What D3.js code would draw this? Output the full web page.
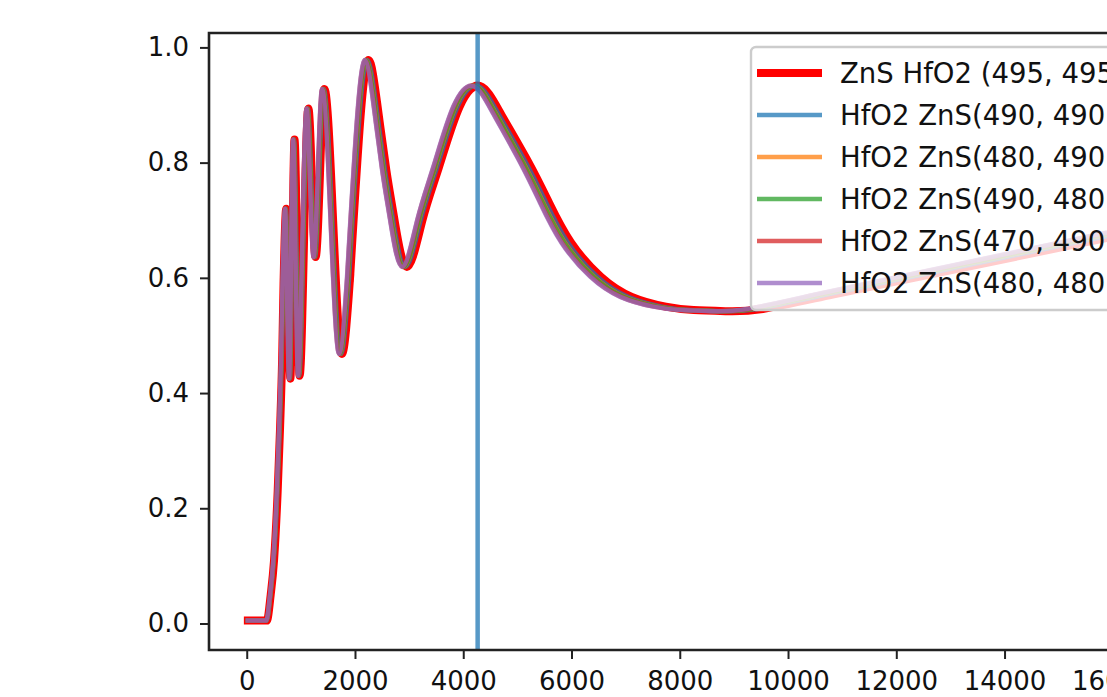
<!doctype html>
<html>
<head>
    <script src="https://d3js.org/d3.v7.min.js"></script>
</head>
<style>
    body { margin: 0; background: #fff; }
    svg text { font-family: "DejaVu Sans", sans-serif; fill: #111; }
</style>
<body>
    <div id="chart"></div>
    <script>
        // reflectance at the turning points of each curve (shared by every design)
        var reflect = [0.005, 0.005, 0.05, 0.11, 0.23, 0.34, 0.46, 0.59, 0.72, 0.425,
                       0.84, 0.43, 0.894, 0.636, 0.928, 0.468, 0.60, 0.88, 0.978, 0.905,
                       0.787, 0.70, 0.619, 0.70, 0.792, 0.897, 0.933, 0.885, 0.80, 0.73,
                       0.661, 0.602, 0.567, 0.55, 0.544, 0.542, 0.546, 0.571, 0.601, 0.631,
                       0.661, 0.69, 0.715];

        // x positions of those turning points, one list per design
        var xZnsHfo2_495_495 = [21, 371, 443, 505, 572, 616, 654, 680, 730, 806,
                                883, 977, 1139, 1273, 1435, 1759, 1909, 2103, 2255, 2407,
                                2579, 2731, 2960, 3246, 3551, 3932, 4313, 4694, 5209, 5588,
                                5994, 6542, 7114, 7743, 8257, 8867, 9534, 10826, 12372, 13919,
                                15465, 17012, 18558];
        var xHfo2Zns_490_490 = [20, 368, 439, 500, 567, 610, 647, 674, 723, 798,
                                874, 968, 1128, 1261, 1421, 1742, 1891, 2083, 2233, 2384,
                                2554, 2705, 2931, 3214, 3516, 3894, 4271, 4649, 5158, 5534,
                                5936, 6478, 7045, 7668, 8177, 8781, 9441, 10721, 12252, 13784,
                                15315, 16847, 18378];
        var xHfo2Zns_480_490 = [20, 364, 435, 496, 561, 604, 641, 668, 716, 791,
                                866, 959, 1118, 1249, 1408, 1725, 1873, 2063, 2212, 2362,
                                2530, 2679, 2904, 3184, 3483, 3857, 4231, 4605, 5110, 5482,
                                5880, 6417, 6979, 7596, 8100, 8698, 9352, 10620, 12137, 13654,
                                15171, 16688, 18205];
        var xHfo2Zns_490_480 = [20, 363, 434, 495, 560, 603, 640, 666, 715, 789,
                                864, 957, 1115, 1247, 1405, 1722, 1869, 2059, 2208, 2357,
                                2525, 2674, 2898, 3178, 3476, 3850, 4222, 4596, 5099, 5471,
                                5869, 6405, 6965, 7581, 8084, 8681, 9334, 10599, 12113, 13627,
                                15141, 16655, 18169];
        var xHfo2Zns_470_490 = [20, 361, 431, 491, 556, 598, 635, 661, 709, 784,
                                858, 950, 1107, 1237, 1395, 1709, 1856, 2044, 2191, 2340,
                                2506, 2654, 2877, 3154, 3451, 3822, 4191, 4562, 5062, 5431,
                                5826, 6358, 6914, 7525, 8025, 8617, 9265, 10521, 12024, 13527,
                                15030, 16533, 18036];
        var xHfo2Zns_480_480 = [20, 360, 430, 490, 555, 597, 634, 660, 708, 782,
                                856, 948, 1105, 1235, 1392, 1706, 1852, 2040, 2187, 2335,
                                2501, 2649, 2871, 3148, 3444, 3814, 4183, 4553, 5052, 5420,
                                5814, 6345, 6900, 7510, 8009, 8600, 9247, 10500, 12000, 13500,
                                15000, 16500, 18000];

        var labels = ["ZnS HfO2 (495, 495)", "HfO2 ZnS(490, 490)", "HfO2 ZnS(480, 490)",
                      "HfO2 ZnS(490, 480)", "HfO2 ZnS(470, 490)", "HfO2 ZnS(480, 480)"];
        var colors = ["#ff0000", "#1f77b4", "#ff7f0e", "#2ca02c", "#d62728", "#9467bd"];
        var markerX = 4266;   // vertical line (peak of the 490/490 design)

        var xTicks = [0, 2000, 4000, 6000, 8000, 10000, 12000, 14000, 16000];
        var yTicks = [0.0, 0.2, 0.4, 0.6, 0.8, 1.0];

        var seriesX = [xZnsHfo2_495_495, xHfo2Zns_490_490, xHfo2Zns_480_490,
                       xHfo2Zns_490_480, xHfo2Zns_470_490, xHfo2Zns_480_480];

        var width = 1107, height = 697;
        var plotLeft = 209, plotTop = 33, plotBottom = 650, plotRight = 1194;

        var svg = d3.select("#chart").append("svg")
                    .attr("width", width)
                    .attr("height", height);

        var x = d3.scaleLinear().domain([-697, 17500]).range([plotLeft, plotRight]);
        var y = d3.scaleLinear().domain([-0.046, 1.025]).range([plotBottom, plotTop]);

        svg.append("clipPath").attr("id", "plot-area")
           .append("rect")
           .attr("x", plotLeft).attr("y", plotTop)
           .attr("width", plotRight - plotLeft).attr("height", plotBottom - plotTop);

        // spiky short-wave part keeps monotone segments, the broad part gets a smooth spline
        var split = 16;
        var lineSpiky = d3.line()
                          .x(function(d) { return x(d[0]); })
                          .y(function(d) { return y(d[1]); })
                          .curve(d3.curveMonotoneX);
        var lineBroad = d3.line()
                          .x(function(d) { return x(d[0]); })
                          .y(function(d) { return y(d[1]); })
                          .curve(d3.curveNatural);

        var plot = svg.append("g").attr("clip-path", "url(#plot-area)");

        seriesX.forEach(function(xs, i) {
            var pts = xs.map(function(v, j) { return [v, reflect[j]]; });
            plot.append("path")
                .attr("d", lineSpiky(pts.slice(0, split + 1)) + lineBroad(pts.slice(split)))
                .attr("fill", "none")
                .attr("stroke", colors[i])
                .attr("stroke-opacity", i == 0 ? 1 : 0.75)
                .attr("stroke-width", i == 0 ? 8 : 4.5)
                .attr("stroke-linejoin", "round")
                .attr("stroke-linecap", "square");
        });

        plot.append("line")
            .attr("x1", x(markerX)).attr("x2", x(markerX))
            .attr("y1", plotTop).attr("y2", plotBottom)
            .attr("stroke", colors[1])
            .attr("stroke-opacity", 0.75)
            .attr("stroke-width", 4.5);

        // axes
        var xAxis = svg.append("g")
                       .attr("transform", "translate(0," + plotBottom + ")")
                       .call(d3.axisBottom(x).tickValues(xTicks)
                               .tickFormat(d3.format("d"))
                               .tickSize(9).tickPadding(13));
        var yAxis = svg.append("g")
                       .attr("transform", "translate(" + plotLeft + ",0)")
                       .call(d3.axisLeft(y).tickValues(yTicks)
                               .tickFormat(d3.format(".1f"))
                               .tickSize(9).tickPadding(11));

        [xAxis, yAxis].forEach(function(a) {
            a.select(".domain").remove();
            a.selectAll(".tick line").attr("stroke", "#222").attr("stroke-width", 2);
            a.selectAll(".tick text")
             .attr("font-size", "26px")
             .attr("font-family", "DejaVu Sans")
             .attr("fill", "#111");
        });

        // spines (left, top, bottom; right one is outside the picture)
        svg.append("path")
           .attr("d", "M" + plotRight + "," + plotTop + "H" + plotLeft + "V" + plotBottom + "H" + plotRight)
           .attr("fill", "none")
           .attr("stroke", "#222")
           .attr("stroke-width", 2.6);

        // legend
        var legend = svg.append("g");
        legend.append("rect")
              .attr("x", 751).attr("y", 47)
              .attr("width", 440).attr("height", 263)
              .attr("rx", 5)
              .attr("fill", "#fff").attr("fill-opacity", 0.8)
              .attr("stroke", "#cccccc").attr("stroke-width", 2.4);

        var rowY = d3.scaleLinear().domain([0, 5]).range([73, 283]);
        labels.forEach(function(lab, i) {
            legend.append("line")
                  .attr("x1", 757).attr("x2", 822)
                  .attr("y1", rowY(i)).attr("y2", rowY(i))
                  .attr("stroke", colors[i])
                  .attr("stroke-opacity", i == 0 ? 1 : 0.75)
                  .attr("stroke-width", i == 0 ? 8 : 4.5);
            legend.append("text")
                  .attr("x", 840).attr("y", rowY(i))
                  .attr("dy", "0.35em")
                  .attr("font-size", "27.5px")
                  .text(lab);
        });
    </script>
</body>
</html>
